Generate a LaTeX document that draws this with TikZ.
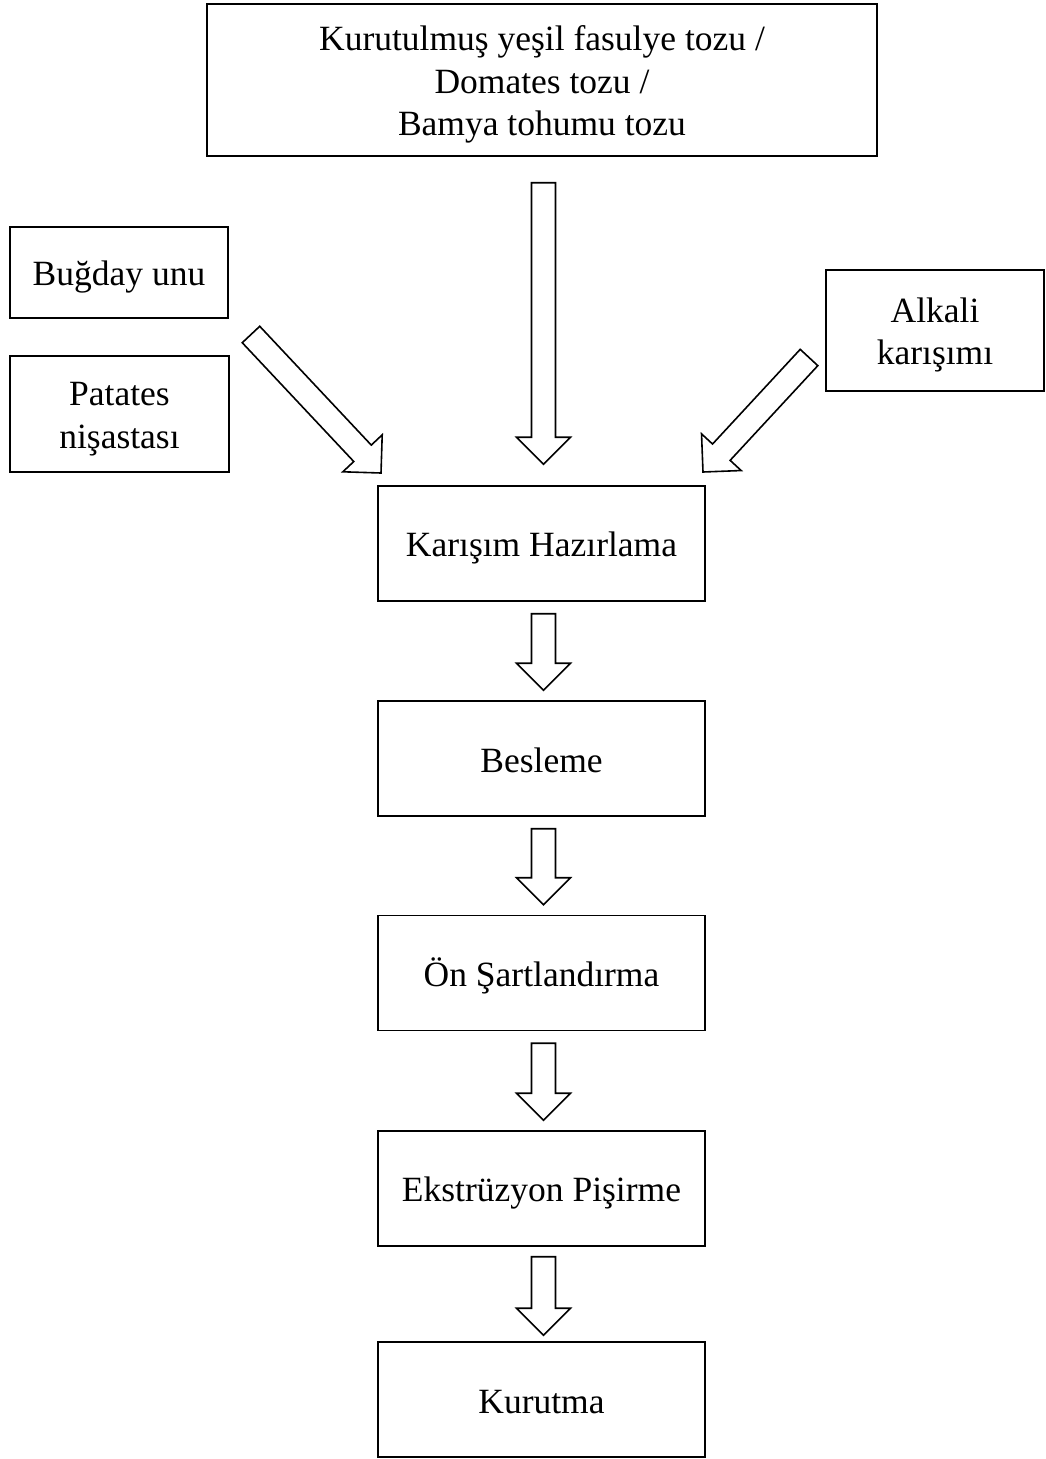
\documentclass[tikz,border=0pt]{standalone}
\usepackage{fontspec}
\setmainfont{Liberation Serif}
\usetikzlibrary{calc}
% fixed line strut: ascent 34pt, descent 5.3pt
\newcommand\ls{\rule[-5.3pt]{0pt}{39.3pt}}
\tikzset{
  box/.style={draw, line width=1.5pt, inner sep=0pt, align=center,
    font=\fontsize{35.5}{42.5}\selectfont},
  stage/.style={box, minimum width=327pt, minimum height=115pt},
  blockarrow/.style={draw, line width=1.6pt, fill=white, line join=miter},
}
% hollow block arrow from tail coordinate #1 to tip coordinate #2
\newcommand\fatarrow[2]{%
  \coordinate (hb) at ($(#2)!27pt!(#1)$);
  \draw[blockarrow]
    ($(#1)!12pt!90:(#2)$) -- ($(hb)!12pt!-90:(#1)$) -- ($(hb)!27pt!-90:(#1)$)
    -- (#2) -- ($(hb)!27pt!90:(#1)$) -- ($(hb)!12pt!90:(#1)$)
    -- ($(#1)!12pt!-90:(#2)$) -- cycle;}
\begin{document}
\begin{tikzpicture}[x=1pt, y=-1pt]
  \useasboundingbox[fill=white] (0,0) rectangle (1045,1459);

  % ingredients
  \node[box, minimum width=670pt, minimum height=152pt] (top) at (542,80)
    {\ls Kurutulmuş yeşil fasulye tozu /\\ \ls Domates tozu /\\ \ls Bamya tohumu tozu};
  \node[box, minimum width=218pt, minimum height=91pt] (bugday) at (119,272.5) {\ls Buğday unu};
  \node[box, minimum width=219pt, minimum height=116pt] (patates) at (119.5,414) {\ls Patates\\ \ls nişastası};
  \node[box, minimum width=218pt, minimum height=121pt] (alkali) at (935,330.5) {\ls Alkali\\ \ls karışımı};

  % process stages
  \node[stage] (kar) at (541.5,543.5) {\ls Karışım Hazırlama};
  \node[stage] (bes) at (541.5,758.5) {\ls Besleme};
  \node[stage] (on)  at (541.5,973)   {\ls Ön Şartlandırma};
  \node[stage] (eks) at (541.5,1188.5) {\ls Ekstrüzyon Pişirme};
  \node[stage] (kur) at (541.5,1399.5) {\ls Kurutma};

  % arrow end points
  \coordinate (t0) at ($(top.south)+(1.5,26)$);
  \coordinate (h0) at ($(kar.north)+(2,-21)$);
  \coordinate (t1) at (251,334.5);
  \coordinate (h1) at (381,473);
  \coordinate (t2) at (809,357.5);
  \coordinate (h2) at (703,472);
  \coordinate (t3) at ($(kar.south)+(2,12)$);
  \coordinate (h3) at ($(bes.north)+(2,-10)$);
  \coordinate (t4) at ($(bes.south)+(2,12)$);
  \coordinate (h4) at ($(on.north)+(2,-10)$);
  \coordinate (t5) at ($(on.south)+(2,12)$);
  \coordinate (h5) at ($(eks.north)+(2,-10)$);
  \coordinate (t6) at ($(eks.south)+(2,10)$);
  \coordinate (h6) at ($(kur.north)+(2,-6)$);

  \fatarrow{t0}{h0}
  \fatarrow{t1}{h1}
  \fatarrow{t2}{h2}
  \fatarrow{t3}{h3}
  \fatarrow{t4}{h4}
  \fatarrow{t5}{h5}
  \fatarrow{t6}{h6}
\end{tikzpicture}
\end{document}
